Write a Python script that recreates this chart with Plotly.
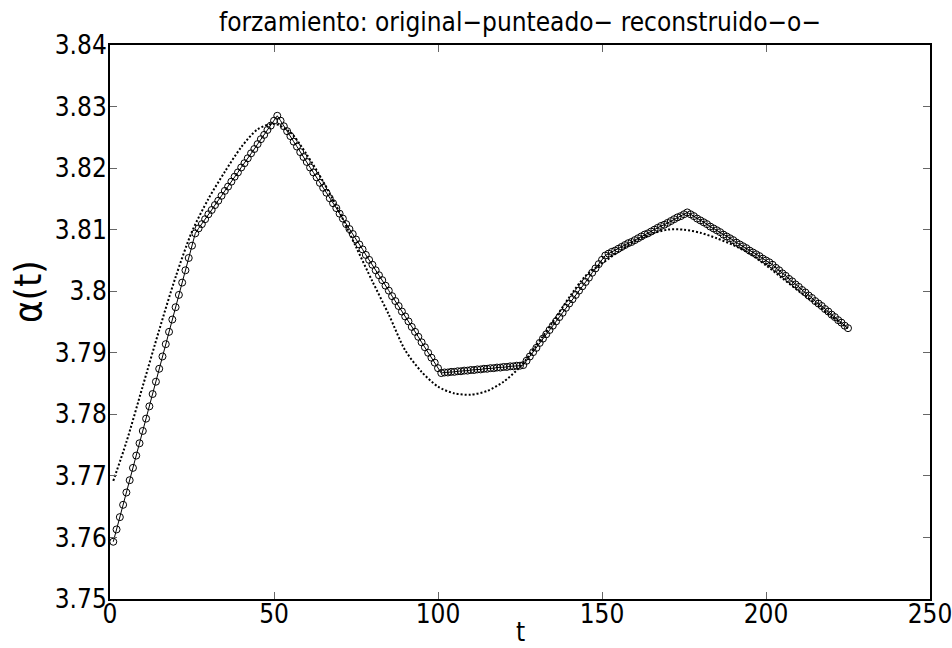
import plotly.graph_objects as go

# Reconstructed series (t = 1..225)
t_rec = list(range(1, 226))
rec_vals = [
    3.7593, 3.7613, 3.7633, 3.7653, 3.7673, 3.7693, 3.7713, 3.7733, 3.7753, 3.7773,
    3.7793, 3.7813, 3.7833, 3.7853, 3.7874, 3.7894, 3.7914, 3.7934, 3.7954, 3.7974,
    3.7994, 3.8014, 3.8034, 3.8054, 3.8074, 3.8094,
    3.8102, 3.8109, 3.8117, 3.8125, 3.8132, 3.8140, 3.8147, 3.8155, 3.8163, 3.8170,
    3.8178, 3.8186, 3.8193, 3.8201, 3.8208, 3.8216, 3.8224, 3.8231, 3.8239, 3.8247,
    3.8254, 3.8262, 3.8269, 3.8277, 3.8285,
    3.8277, 3.8268, 3.8260, 3.8252, 3.8243, 3.8235, 3.8226, 3.8218, 3.8210, 3.8201,
    3.8193, 3.8185, 3.8176, 3.8168, 3.8160, 3.8151, 3.8143, 3.8135, 3.8126, 3.8118,
    3.8109, 3.8101, 3.8093, 3.8084, 3.8076,
    3.8068, 3.8059, 3.8051, 3.8043, 3.8034, 3.8026, 3.8018, 3.8009, 3.8001, 3.7992,
    3.7984, 3.7976, 3.7967, 3.7959, 3.7951, 3.7942, 3.7934, 3.7926, 3.7917, 3.7909,
    3.7900, 3.7892, 3.7884, 3.7875, 3.7867,
    3.7868, 3.7868, 3.7869, 3.7869, 3.7870, 3.7870, 3.7871, 3.7871, 3.7872, 3.7872,
    3.7873, 3.7873, 3.7874, 3.7874, 3.7875, 3.7875, 3.7876, 3.7876, 3.7877, 3.7877,
    3.7878, 3.7878, 3.7879, 3.7879, 3.7880,
    3.7887, 3.7894, 3.7901, 3.7908, 3.7916, 3.7923, 3.7930, 3.7937, 3.7944, 3.7951,
    3.7958, 3.7965, 3.7973, 3.7980, 3.7987, 3.7994, 3.8001, 3.8008, 3.8015, 3.8022,
    3.8030, 3.8037, 3.8044, 3.8051, 3.8058,
    3.8061, 3.8064, 3.8066, 3.8069, 3.8072, 3.8075, 3.8078, 3.8080, 3.8083, 3.8086,
    3.8089, 3.8092, 3.8094, 3.8097, 3.8100, 3.8103, 3.8106, 3.8108, 3.8111, 3.8114,
    3.8117, 3.8120, 3.8122, 3.8125, 3.8128,
    3.8125, 3.8122, 3.8118, 3.8115, 3.8112, 3.8109, 3.8105, 3.8102, 3.8099, 3.8096,
    3.8092, 3.8089, 3.8086, 3.8083, 3.8079, 3.8076, 3.8073, 3.8070, 3.8066, 3.8063,
    3.8060, 3.8057, 3.8053, 3.8050, 3.8047,
    3.8043, 3.8038, 3.8034, 3.8029, 3.8025, 3.8020, 3.8016, 3.8011, 3.8007, 3.8002,
    3.7998, 3.7993, 3.7989, 3.7984, 3.7980, 3.7976, 3.7971, 3.7967, 3.7962, 3.7958,
    3.7953, 3.7949, 3.7944, 3.7940,
]

# Original (dotted) series, read at a coarser step
t_orig = [1, 5, 10, 15, 20, 25, 30, 35, 40, 45, 50, 55, 60, 65, 70, 75, 80, 85, 90, 95,
          100, 105, 110, 115, 120, 125, 130, 135, 140, 145, 150, 155, 160, 165, 170, 175,
          180, 185, 190, 195, 200, 205, 210, 215, 220, 225]
orig_vals = [3.7692, 3.7755, 3.7846, 3.7937, 3.8023, 3.8097, 3.8150, 3.8194, 3.8234, 3.8263,
             3.8272, 3.8258, 3.8222, 3.8178, 3.8128, 3.8072, 3.8016, 3.7962, 3.7904, 3.7869,
             3.7845, 3.7834, 3.7832, 3.7838, 3.7853, 3.7877, 3.7912, 3.7950, 3.7990, 3.8025,
             3.8045, 3.8064, 3.8081, 3.8093, 3.8100, 3.8100, 3.8095, 3.8086, 3.8075, 3.8061,
             3.8042, 3.8021, 3.8000, 3.7980, 3.7959, 3.7940]

x_ticks = [0, 50, 100, 150, 200, 250]
y_ticks = [3.75, 3.76, 3.77, 3.78, 3.79, 3.80, 3.81, 3.82, 3.83, 3.84]
y_tick_text = ["3.75", "3.76", "3.77", "3.78", "3.79", "3.8", "3.81", "3.82", "3.83", "3.84"]

FONT = "DejaVu Sans Condensed, DejaVu Sans, sans-serif"

fig = go.Figure()
fig.add_trace(go.Scatter(
    x=t_orig, y=orig_vals, mode="lines",
    line=dict(color="black", width=2, dash="2px,2px", shape="spline", smoothing=0.8),
    showlegend=False, hoverinfo="skip"))
fig.add_trace(go.Scatter(
    x=t_rec, y=rec_vals, mode="lines+markers",
    line=dict(color="black", width=1),
    marker=dict(symbol="circle-open", size=7, color="black", line=dict(width=1, color="black")),
    showlegend=False))

fig.update_layout(
    width=952, height=648,
    margin=dict(l=110, r=22, t=45, b=49, autoexpand=False),
    paper_bgcolor="white", plot_bgcolor="white",
    font=dict(family=FONT, size=26, color="black"),
    title=dict(text="forzamiento: original\u2212punteado\u2212 reconstruido\u2212o\u2212",
               x=0.5, xref="paper", xanchor="center", y=1 - 22 / 648, yanchor="middle",
               font=dict(family=FONT, size=26, color="black")),
    xaxis=dict(range=[0, 250], tickvals=x_ticks, ticks="inside", ticklen=7, tickcolor="#666",
               showline=True, linecolor="black", linewidth=2, mirror="ticks",
               ticklabeloverflow="allow", automargin=False, ticklabelstandoff=-9,
               showgrid=False, zeroline=False, tickfont=dict(family=FONT, size=26)),
    yaxis=dict(range=[3.75, 3.84], tickvals=y_ticks, ticktext=y_tick_text, ticks="inside",
               ticklen=7, tickcolor="#666", automargin=False, ticklabelstandoff=-4,
               showline=True, linecolor="black", linewidth=2, mirror="ticks",
               showgrid=False, zeroline=False, tickfont=dict(family=FONT, size=26)),
)
fig.add_annotation(text="t", xref="paper", yref="paper",
                   x=0.5, y=-(632 - 599) / 554, xanchor="center", yanchor="middle",
                   showarrow=False, font=dict(family=FONT, size=26, color="black"))
fig.add_annotation(text="\u03b1(t)", xref="paper", yref="paper",
                   x=-82 / 820, y=(599 - 292) / 554, xanchor="center", yanchor="middle",
                   textangle=-90, showarrow=False,
                   font=dict(family=FONT, size=38, color="black"))

fig.write_html("out.html")
